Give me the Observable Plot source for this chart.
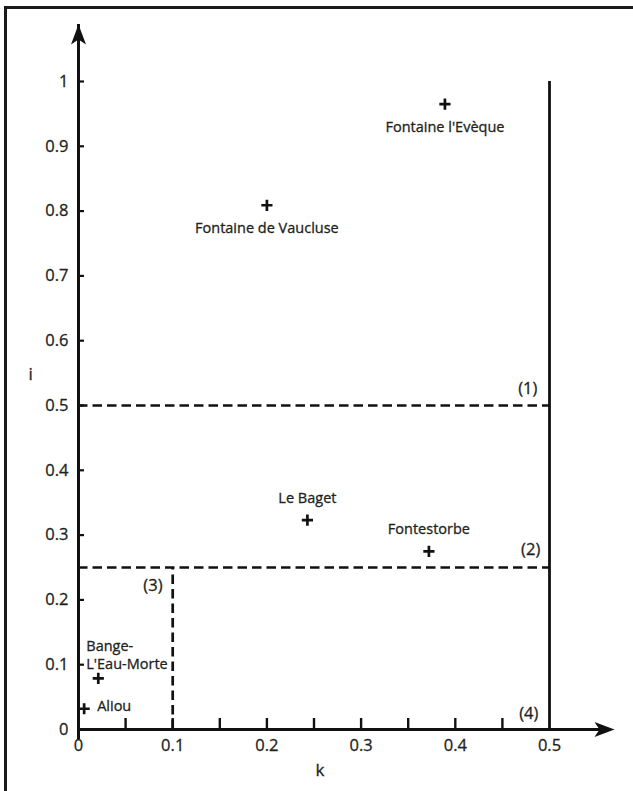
<!DOCTYPE html>
<html><head><meta charset="utf-8">
<script src="https://cdn.jsdelivr.net/npm/d3@7"></script>
<script src="https://cdn.jsdelivr.net/npm/@observablehq/plot@0.6"></script>
<style>
html,body{margin:0;padding:0;background:#fff;}
#wrap{position:relative;width:633px;height:791px;overflow:hidden;background:#fff;}
#frame{position:absolute;left:4px;top:6px;width:800px;height:900px;border-left:3px solid #1a1a1a;border-top:3px solid #1a1a1a;}
#chart{position:absolute;left:0;top:0;}
#chart svg text{stroke:#231f20;stroke-width:0.3px;}
</style></head><body>
<div id="wrap"><div id="frame"></div><div id="chart"></div></div>
<script>
// ---- data ----
const sites = ["Fontaine l'Evèque", "Fontaine de Vaucluse", "Le Baget", "Fontestorbe", "Bange-\nL'Eau-Morte", "Aliou"];
const kValues = [0.389, 0.200, 0.243, 0.372, 0.021, 0.006];
const iValues = [0.965, 0.809, 0.323, 0.275, 0.079, 0.032];

const kTickLabels = [0, 0.1, 0.2, 0.3, 0.4, 0.5];
const kTickMarks = [0.05, 0.1, 0.15, 0.2, 0.25, 0.3, 0.35, 0.4, 0.45];
const iTickLabels = [0, 0.1, 0.2, 0.3, 0.4, 0.5, 0.6, 0.7, 0.8, 0.9, 1];
const iTickMarks = [0.1, 0.2, 0.3, 0.4, 0.5, 0.6, 0.7, 0.8, 0.9, 1];

const iThresholds = [0.5, 0.25];   // dashed horizontal limits
const kThresholds = [0.1];         // dashed vertical limit (below i = 0.25)
const kLimits = [0.5];             // solid vertical limit
const regionLabels = ["(1)", "(2)", "(3)", "(4)"];
const regionK = [0.477, 0.48, 0.079, 0.478];
const regionI = [0.526, 0.278, 0.222, 0.025];
const kAxisEnd = 0.569;
const iAxisEnd = 1.088;

// ---- build ----
const points = sites.map((s, j) => ({site: s, k: kValues[j], i: iValues[j]}));
const regions = regionLabels.map((t, j) => ({label: t, k: regionK[j], i: regionI[j]}));
const placement = {
  "Fontaine l'Evèque": "below", "Fontaine de Vaucluse": "below",
  "Le Baget": "above", "Fontestorbe": "above",
  "Bange-\nL'Eau-Morte": "stack", "Aliou": "right"
};
const W = 633, H = 791, mL = 78, mR = 84, mT = 81, mB = 62;
const frameW = W - mL - mR, frameH = H - mT - mB;
const ink = "#231f20";
const font = "'Open Sans', sans-serif";

const arrowHead = {
  draw(ctx) {
    ctx.moveTo(0, 0);
    ctx.lineTo(7.5, 20);
    ctx.lineTo(0, 15);
    ctx.lineTo(-7.5, 20);
    ctx.closePath();
  }
};

const chart = Plot.plot({
  width: W, height: H,
  marginLeft: mL, marginRight: mR, marginTop: mT, marginBottom: mB,
  x: {domain: [0, 0.5]},
  y: {domain: [0, 1]},
  style: {fontFamily: font, color: ink, background: "transparent", overflow: "visible"},
  marks: [
    // thresholds
    Plot.ruleY(iThresholds, {x1: 0, x2: kLimits[0], stroke: "#111", strokeWidth: 2.7, strokeDasharray: "9.5,5"}),
    Plot.ruleX(kThresholds, {y1: 0, y2: iThresholds[1], stroke: "#111", strokeWidth: 2.7, strokeDasharray: "9.5,5"}),
    Plot.ruleX(kLimits, {y1: 0, y2: 1, stroke: "#111", strokeWidth: 2.8}),
    // ticks
    Plot.tickX(kTickMarks, {x: d => d, stroke: "#111", strokeWidth: 2.4, insetTop: frameH - 11}),
    Plot.tickY(iTickMarks, {y: d => d, stroke: "#111", strokeWidth: 2.2, insetRight: frameW - 6}),
    // axes lines with arrows
    Plot.ruleX([0], {y1: 0, y2: iAxisEnd, stroke: "#111", strokeWidth: 3, insetTop: 10}),
    Plot.ruleY([0], {x1: 0, x2: kAxisEnd, stroke: "#111", strokeWidth: 3, insetRight: 10}),
    Plot.dot([{k: 0, i: iAxisEnd}], {x: "k", y: "i", symbol: arrowHead, fill: "#111", stroke: "none"}),
    Plot.dot([{k: kAxisEnd, i: 0}], {x: "k", y: "i", symbol: arrowHead, fill: "#111", stroke: "none", rotate: 90}),
    // tick labels
    Plot.axisY(iTickLabels, {tickSize: 0, tickPadding: 10, fontSize: 16.5, tickFormat: d => String(d), label: null}),
    Plot.axisX(kTickLabels, {tickSize: 0, tickPadding: 10, fontSize: 16.5, tickFormat: d => String(d), label: null}),
    Plot.text(["i"], {frameAnchor: "left", dx: -50, dy: -31, fontSize: 17, fill: ink}),
    Plot.text(["k"], {frameAnchor: "bottom", dx: 6, dy: 46, fontSize: 17, fill: ink}),
    // region labels
    Plot.text(regions, {x: "k", y: "i", text: "label", fontSize: 16.5, fill: ink}),
    // points
    Plot.dot(points, {x: "k", y: "i", symbol: "plus", r: 3.7, stroke: "#111", strokeWidth: 2.7}),
    Plot.text(points.filter(d => placement[d.site] === "below"), {x: "k", y: "i", text: "site", dy: 23, fontSize: 14.5, fill: ink}),
    Plot.text(points.filter(d => placement[d.site] === "above"), {x: "k", y: "i", text: "site", dy: -22, fontSize: 14.5, fill: ink}),
    Plot.text(points.filter(d => placement[d.site] === "stack"), {x: "k", y: "i", text: "site", dx: -12, dy: -24, textAnchor: "start", lineHeight: 1.24, fontSize: 14.5, fill: ink}),
    Plot.text(points.filter(d => placement[d.site] === "right"), {x: "k", y: "i", text: "site", dx: 13, dy: -2, textAnchor: "start", fontSize: 14.5, fill: ink})
  ]
});
document.getElementById("chart").appendChild(chart);
</script>
</body></html>
